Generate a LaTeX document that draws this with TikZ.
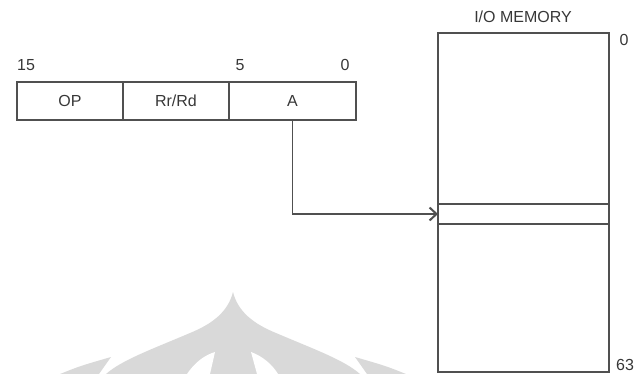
\documentclass[tikz,border=0pt]{standalone}
\usepackage{fontspec}
\setmainfont{Liberation Sans}
\usetikzlibrary{arrows.meta, positioning}
\definecolor{linegray}{RGB}{80,80,80}
\definecolor{txtgray}{RGB}{55,55,55}
\definecolor{markgray}{RGB}{217,217,217}

\begin{document}
\begin{tikzpicture}[x=1pt, y=-1pt, >={Straight Barb[length=7pt, width=13pt, line width=2pt]},
      field/.style={rectangle, draw=linegray, line width=1.5pt, outer sep=0pt,
                    minimum height=38pt, inner sep=0pt,
                    font=\fontsize{16}{19}\selectfont, text=txtgray},
      bitnum/.style={font=\fontsize{16}{19}\selectfont, text=txtgray, inner sep=0pt}]

    \useasboundingbox (0,0) rectangle (639,374);

    % watermark in the back
    \fill[markgray] (233,292) .. controls (228,312) and (212,324) .. (190,333)
       .. controls (150,350) and (122,360) .. (106,374) -- (360,374)
       .. controls (344,360) and (316,350) .. (276,333)
       .. controls (254,324) and (238,312) .. (233,292);
    \fill[white] (187,374) .. controls (195,362) and (205,355) .. (215,352) -- (210,374);
    \fill[white] (251,352) .. controls (262,356) and (272,364) .. (278,374) -- (257,374);
    \fill[markgray] (111,357) -- (99,374) -- (60,374) .. controls (80,366) .. (111,357);
    \fill[markgray] (355,357) -- (367,374) -- (406,374) .. controls (386,366) .. (355,357);

    % instruction word
    \node[field, minimum width=106pt] (op) at (70,101) {OP};
    \node[field, minimum width=106pt, right=0pt of op] (rr) {Rr/Rd};
    \node[field, minimum width=127pt, right=0pt of rr] (a) {A};

    \node[bitnum, anchor=west] (b15) at (17,65) {15};
    \node[bitnum] (b5) at (240,65) {5};
    \node[bitnum] (b0) at (345,65) {0};

    % memory
    \node[field, minimum width=171pt, minimum height=339pt] (mem) at (523.5,202.5) {};
    \node[field, minimum width=171pt, minimum height=20pt] (slot) at (523.5,214) {};
    \node[bitnum] (title) at (523,17) {I/O MEMORY};
    \node[bitnum] (m0) at (624,40) {0};
    \node[bitnum] (m63) at (625,365) {63};

    \draw[->, draw=linegray, line width=1.5pt] (a.south) |- (slot.west);
\end{tikzpicture}
\end{document}
